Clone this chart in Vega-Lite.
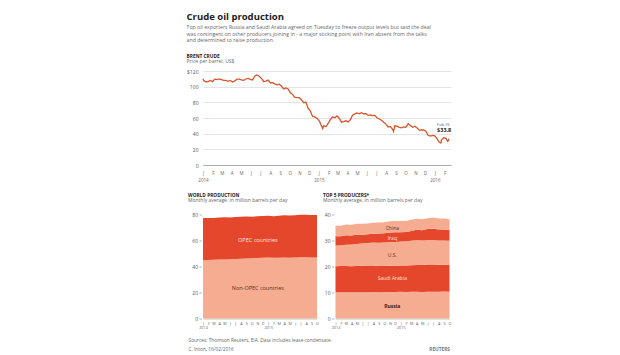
{
  "$schema": "https://vega.github.io/schema/vega-lite/v6.json",
  "background": "white",
  "padding": {"left": 186, "top": 12, "right": 0, "bottom": 0},
  "config": {
    "view": {"stroke": null},
    "font": "Open Sans",
    "axis": {"labelFont": "Open Sans", "titleFont": "Open Sans", "labelOverlap": false, "labelSeparation": 0}
  },
  "title": {
    "text": "Crude oil production",
    "subtitle": [
      "Top oil exporters Russia and Saudi Arabia agreed on Tuesday to freeze output levels but said the deal",
      "was contingent on other producers joining in - a major sticking point with Iran absent from the talks",
      "and determined to raise production."
    ],
    "anchor": "start",
    "fontSize": 9.5,
    "fontWeight": "bold",
    "color": "#222222",
    "subtitleFontSize": 5.2,
    "subtitleColor": "#666666",
    "subtitleLineHeight": 6.9,
    "subtitlePadding": 3,
    "offset": 10
  },
  "datasets": {
    "brent": [
      {"date": "2014-01-01", "price": 110.0},
      {"date": "2014-01-03", "price": 107.9},
      {"date": "2014-01-10", "price": 106.3},
      {"date": "2014-01-17", "price": 106.5},
      {"date": "2014-01-24", "price": 107.9},
      {"date": "2014-01-31", "price": 106.4},
      {"date": "2014-02-07", "price": 109.6},
      {"date": "2014-02-14", "price": 109.1},
      {"date": "2014-02-21", "price": 110.0},
      {"date": "2014-02-28", "price": 109.1},
      {"date": "2014-03-07", "price": 108.1},
      {"date": "2014-03-14", "price": 108.0},
      {"date": "2014-03-21", "price": 106.9},
      {"date": "2014-03-28", "price": 107.9},
      {"date": "2014-04-04", "price": 105.9},
      {"date": "2014-04-11", "price": 107.3},
      {"date": "2014-04-18", "price": 109.5},
      {"date": "2014-04-25", "price": 109.6},
      {"date": "2014-05-02", "price": 108.6},
      {"date": "2014-05-09", "price": 108.0},
      {"date": "2014-05-16", "price": 109.8},
      {"date": "2014-05-23", "price": 110.5},
      {"date": "2014-05-30", "price": 109.4},
      {"date": "2014-06-06", "price": 108.6},
      {"date": "2014-06-13", "price": 113.4},
      {"date": "2014-06-19", "price": 115.0},
      {"date": "2014-06-27", "price": 113.3},
      {"date": "2014-07-04", "price": 110.6},
      {"date": "2014-07-11", "price": 106.7},
      {"date": "2014-07-18", "price": 107.2},
      {"date": "2014-07-25", "price": 108.4},
      {"date": "2014-08-01", "price": 105.0},
      {"date": "2014-08-08", "price": 105.0},
      {"date": "2014-08-15", "price": 103.5},
      {"date": "2014-08-22", "price": 102.3},
      {"date": "2014-08-29", "price": 103.2},
      {"date": "2014-09-05", "price": 100.8},
      {"date": "2014-09-12", "price": 97.1},
      {"date": "2014-09-19", "price": 98.4},
      {"date": "2014-09-26", "price": 97.0},
      {"date": "2014-10-03", "price": 92.3},
      {"date": "2014-10-10", "price": 90.2},
      {"date": "2014-10-17", "price": 86.2},
      {"date": "2014-10-24", "price": 86.1},
      {"date": "2014-10-31", "price": 85.9},
      {"date": "2014-11-07", "price": 83.4},
      {"date": "2014-11-14", "price": 79.4},
      {"date": "2014-11-21", "price": 80.4},
      {"date": "2014-11-28", "price": 72.5},
      {"date": "2014-12-05", "price": 69.1},
      {"date": "2014-12-12", "price": 61.9},
      {"date": "2014-12-19", "price": 61.4},
      {"date": "2014-12-26", "price": 59.5},
      {"date": "2015-01-02", "price": 56.4},
      {"date": "2015-01-09", "price": 50.1},
      {"date": "2015-01-13", "price": 46.6},
      {"date": "2015-01-16", "price": 50.2},
      {"date": "2015-01-23", "price": 48.8},
      {"date": "2015-01-30", "price": 53.0},
      {"date": "2015-02-06", "price": 57.8},
      {"date": "2015-02-13", "price": 61.5},
      {"date": "2015-02-20", "price": 60.2},
      {"date": "2015-02-27", "price": 62.6},
      {"date": "2015-03-06", "price": 59.7},
      {"date": "2015-03-13", "price": 54.7},
      {"date": "2015-03-20", "price": 55.3},
      {"date": "2015-03-27", "price": 56.4},
      {"date": "2015-04-03", "price": 54.9},
      {"date": "2015-04-10", "price": 57.9},
      {"date": "2015-04-17", "price": 63.5},
      {"date": "2015-04-24", "price": 65.3},
      {"date": "2015-05-01", "price": 66.5},
      {"date": "2015-05-08", "price": 65.4},
      {"date": "2015-05-15", "price": 66.8},
      {"date": "2015-05-22", "price": 65.4},
      {"date": "2015-05-29", "price": 65.6},
      {"date": "2015-06-05", "price": 63.3},
      {"date": "2015-06-12", "price": 63.9},
      {"date": "2015-06-19", "price": 63.0},
      {"date": "2015-06-26", "price": 63.3},
      {"date": "2015-07-03", "price": 60.3},
      {"date": "2015-07-10", "price": 58.7},
      {"date": "2015-07-17", "price": 57.1},
      {"date": "2015-07-24", "price": 54.6},
      {"date": "2015-07-31", "price": 52.2},
      {"date": "2015-08-07", "price": 48.6},
      {"date": "2015-08-14", "price": 49.2},
      {"date": "2015-08-21", "price": 45.5},
      {"date": "2015-08-24", "price": 42.7},
      {"date": "2015-08-28", "price": 50.1},
      {"date": "2015-09-04", "price": 49.6},
      {"date": "2015-09-11", "price": 48.1},
      {"date": "2015-09-18", "price": 47.5},
      {"date": "2015-09-25", "price": 48.6},
      {"date": "2015-10-02", "price": 48.1},
      {"date": "2015-10-09", "price": 52.7},
      {"date": "2015-10-16", "price": 50.5},
      {"date": "2015-10-23", "price": 48.1},
      {"date": "2015-10-30", "price": 49.6},
      {"date": "2015-11-06", "price": 47.4},
      {"date": "2015-11-13", "price": 44.5},
      {"date": "2015-11-20", "price": 44.7},
      {"date": "2015-11-27", "price": 44.9},
      {"date": "2015-12-04", "price": 43.0},
      {"date": "2015-12-11", "price": 37.9},
      {"date": "2015-12-18", "price": 36.9},
      {"date": "2015-12-25", "price": 37.9},
      {"date": "2016-01-01", "price": 37.3},
      {"date": "2016-01-08", "price": 33.6},
      {"date": "2016-01-15", "price": 28.9},
      {"date": "2016-01-20", "price": 27.9},
      {"date": "2016-01-22", "price": 32.2},
      {"date": "2016-01-29", "price": 34.7},
      {"date": "2016-02-05", "price": 34.1},
      {"date": "2016-02-11", "price": 30.1},
      {"date": "2016-02-15", "price": 33.4}
    ],
    "brentLast": [
      {"date": "2016-02-15", "price": 33.4, "day": "Feb.15", "value": "$33.8"}
    ],
    "world": [
      {"month": "2014-01-01", "group": "Non-OPEC countries", "value": 44.9},
      {"month": "2014-02-01", "group": "Non-OPEC countries", "value": 45.0},
      {"month": "2014-03-01", "group": "Non-OPEC countries", "value": 45.1},
      {"month": "2014-04-01", "group": "Non-OPEC countries", "value": 45.3},
      {"month": "2014-05-01", "group": "Non-OPEC countries", "value": 45.4},
      {"month": "2014-06-01", "group": "Non-OPEC countries", "value": 45.5},
      {"month": "2014-07-01", "group": "Non-OPEC countries", "value": 45.7},
      {"month": "2014-08-01", "group": "Non-OPEC countries", "value": 45.9},
      {"month": "2014-09-01", "group": "Non-OPEC countries", "value": 46.1},
      {"month": "2014-10-01", "group": "Non-OPEC countries", "value": 46.3},
      {"month": "2014-11-01", "group": "Non-OPEC countries", "value": 46.6},
      {"month": "2014-12-01", "group": "Non-OPEC countries", "value": 46.8},
      {"month": "2015-01-01", "group": "Non-OPEC countries", "value": 46.9},
      {"month": "2015-02-01", "group": "Non-OPEC countries", "value": 46.7},
      {"month": "2015-03-01", "group": "Non-OPEC countries", "value": 46.8},
      {"month": "2015-04-01", "group": "Non-OPEC countries", "value": 46.9},
      {"month": "2015-05-01", "group": "Non-OPEC countries", "value": 46.8},
      {"month": "2015-06-01", "group": "Non-OPEC countries", "value": 46.9},
      {"month": "2015-07-01", "group": "Non-OPEC countries", "value": 47.1},
      {"month": "2015-08-01", "group": "Non-OPEC countries", "value": 47.1},
      {"month": "2015-09-01", "group": "Non-OPEC countries", "value": 47.0},
      {"month": "2015-10-01", "group": "Non-OPEC countries", "value": 46.9},
      {"month": "2014-01-01", "group": "OPEC countries", "value": 32.4},
      {"month": "2014-02-01", "group": "OPEC countries", "value": 32.4},
      {"month": "2014-03-01", "group": "OPEC countries", "value": 32.2},
      {"month": "2014-04-01", "group": "OPEC countries", "value": 32.4},
      {"month": "2014-05-01", "group": "OPEC countries", "value": 32.4},
      {"month": "2014-06-01", "group": "OPEC countries", "value": 32.2},
      {"month": "2014-07-01", "group": "OPEC countries", "value": 32.3},
      {"month": "2014-08-01", "group": "OPEC countries", "value": 32.4},
      {"month": "2014-09-01", "group": "OPEC countries", "value": 32.4},
      {"month": "2014-10-01", "group": "OPEC countries", "value": 32.0},
      {"month": "2014-11-01", "group": "OPEC countries", "value": 32.0},
      {"month": "2014-12-01", "group": "OPEC countries", "value": 32.0},
      {"month": "2015-01-01", "group": "OPEC countries", "value": 32.1},
      {"month": "2015-02-01", "group": "OPEC countries", "value": 32.0},
      {"month": "2015-03-01", "group": "OPEC countries", "value": 32.3},
      {"month": "2015-04-01", "group": "OPEC countries", "value": 32.5},
      {"month": "2015-05-01", "group": "OPEC countries", "value": 32.5},
      {"month": "2015-06-01", "group": "OPEC countries", "value": 32.6},
      {"month": "2015-07-01", "group": "OPEC countries", "value": 32.8},
      {"month": "2015-08-01", "group": "OPEC countries", "value": 32.7},
      {"month": "2015-09-01", "group": "OPEC countries", "value": 32.7},
      {"month": "2015-10-01", "group": "OPEC countries", "value": 32.7}
    ],
    "worldLabels": [
      {"month": "2014-11-04", "group": "OPEC countries", "value": 60.5},
      {"month": "2014-11-04", "group": "Non-OPEC countries", "value": 23.6}
    ],
    "producerOrder": [
      {"producer": "Russia", "stackOrder": 1},
      {"producer": "Saudi Arabia", "stackOrder": 2},
      {"producer": "U.S.", "stackOrder": 3},
      {"producer": "Iraq", "stackOrder": 4},
      {"producer": "China", "stackOrder": 5}
    ],
    "top5": [
      {"month": "2014-01-01", "producer": "Russia", "value": 10.1},
      {"month": "2014-02-01", "producer": "Russia", "value": 10.1},
      {"month": "2014-03-01", "producer": "Russia", "value": 10.1},
      {"month": "2014-04-01", "producer": "Russia", "value": 10.1},
      {"month": "2014-05-01", "producer": "Russia", "value": 10.1},
      {"month": "2014-06-01", "producer": "Russia", "value": 10.1},
      {"month": "2014-07-01", "producer": "Russia", "value": 10.1},
      {"month": "2014-08-01", "producer": "Russia", "value": 10.2},
      {"month": "2014-09-01", "producer": "Russia", "value": 10.1},
      {"month": "2014-10-01", "producer": "Russia", "value": 10.2},
      {"month": "2014-11-01", "producer": "Russia", "value": 10.2},
      {"month": "2014-12-01", "producer": "Russia", "value": 10.2},
      {"month": "2015-01-01", "producer": "Russia", "value": 10.3},
      {"month": "2015-02-01", "producer": "Russia", "value": 10.2},
      {"month": "2015-03-01", "producer": "Russia", "value": 10.3},
      {"month": "2015-04-01", "producer": "Russia", "value": 10.3},
      {"month": "2015-05-01", "producer": "Russia", "value": 10.2},
      {"month": "2015-06-01", "producer": "Russia", "value": 10.3},
      {"month": "2015-07-01", "producer": "Russia", "value": 10.3},
      {"month": "2015-08-01", "producer": "Russia", "value": 10.3},
      {"month": "2015-09-01", "producer": "Russia", "value": 10.4},
      {"month": "2015-10-01", "producer": "Russia", "value": 10.3},
      {"month": "2014-01-01", "producer": "Saudi Arabia", "value": 10.0},
      {"month": "2014-02-01", "producer": "Saudi Arabia", "value": 10.1},
      {"month": "2014-03-01", "producer": "Saudi Arabia", "value": 10.1},
      {"month": "2014-04-01", "producer": "Saudi Arabia", "value": 10.0},
      {"month": "2014-05-01", "producer": "Saudi Arabia", "value": 10.1},
      {"month": "2014-06-01", "producer": "Saudi Arabia", "value": 10.2},
      {"month": "2014-07-01", "producer": "Saudi Arabia", "value": 10.3},
      {"month": "2014-08-01", "producer": "Saudi Arabia", "value": 10.2},
      {"month": "2014-09-01", "producer": "Saudi Arabia", "value": 10.1},
      {"month": "2014-10-01", "producer": "Saudi Arabia", "value": 10.0},
      {"month": "2014-11-01", "producer": "Saudi Arabia", "value": 10.1},
      {"month": "2014-12-01", "producer": "Saudi Arabia", "value": 10.0},
      {"month": "2015-01-01", "producer": "Saudi Arabia", "value": 10.1},
      {"month": "2015-02-01", "producer": "Saudi Arabia", "value": 10.2},
      {"month": "2015-03-01", "producer": "Saudi Arabia", "value": 10.2},
      {"month": "2015-04-01", "producer": "Saudi Arabia", "value": 10.3},
      {"month": "2015-05-01", "producer": "Saudi Arabia", "value": 10.4},
      {"month": "2015-06-01", "producer": "Saudi Arabia", "value": 10.5},
      {"month": "2015-07-01", "producer": "Saudi Arabia", "value": 10.5},
      {"month": "2015-08-01", "producer": "Saudi Arabia", "value": 10.4},
      {"month": "2015-09-01", "producer": "Saudi Arabia", "value": 10.3},
      {"month": "2015-10-01", "producer": "Saudi Arabia", "value": 10.4},
      {"month": "2014-01-01", "producer": "U.S.", "value": 8.0},
      {"month": "2014-02-01", "producer": "U.S.", "value": 8.0},
      {"month": "2014-03-01", "producer": "U.S.", "value": 8.2},
      {"month": "2014-04-01", "producer": "U.S.", "value": 8.4},
      {"month": "2014-05-01", "producer": "U.S.", "value": 8.5},
      {"month": "2014-06-01", "producer": "U.S.", "value": 8.6},
      {"month": "2014-07-01", "producer": "U.S.", "value": 8.6},
      {"month": "2014-08-01", "producer": "U.S.", "value": 8.8},
      {"month": "2014-09-01", "producer": "U.S.", "value": 8.9},
      {"month": "2014-10-01", "producer": "U.S.", "value": 9.0},
      {"month": "2014-11-01", "producer": "U.S.", "value": 9.1},
      {"month": "2014-12-01", "producer": "U.S.", "value": 9.2},
      {"month": "2015-01-01", "producer": "U.S.", "value": 9.2},
      {"month": "2015-02-01", "producer": "U.S.", "value": 9.3},
      {"month": "2015-03-01", "producer": "U.S.", "value": 9.4},
      {"month": "2015-04-01", "producer": "U.S.", "value": 9.6},
      {"month": "2015-05-01", "producer": "U.S.", "value": 9.4},
      {"month": "2015-06-01", "producer": "U.S.", "value": 9.4},
      {"month": "2015-07-01", "producer": "U.S.", "value": 9.4},
      {"month": "2015-08-01", "producer": "U.S.", "value": 9.3},
      {"month": "2015-09-01", "producer": "U.S.", "value": 9.3},
      {"month": "2015-10-01", "producer": "U.S.", "value": 9.2},
      {"month": "2014-01-01", "producer": "Iraq", "value": 3.5},
      {"month": "2014-02-01", "producer": "Iraq", "value": 3.4},
      {"month": "2014-03-01", "producer": "Iraq", "value": 3.6},
      {"month": "2014-04-01", "producer": "Iraq", "value": 3.4},
      {"month": "2014-05-01", "producer": "Iraq", "value": 3.5},
      {"month": "2014-06-01", "producer": "Iraq", "value": 3.3},
      {"month": "2014-07-01", "producer": "Iraq", "value": 3.4},
      {"month": "2014-08-01", "producer": "Iraq", "value": 3.4},
      {"month": "2014-09-01", "producer": "Iraq", "value": 3.6},
      {"month": "2014-10-01", "producer": "Iraq", "value": 3.6},
      {"month": "2014-11-01", "producer": "Iraq", "value": 3.7},
      {"month": "2014-12-01", "producer": "Iraq", "value": 3.8},
      {"month": "2015-01-01", "producer": "Iraq", "value": 3.6},
      {"month": "2015-02-01", "producer": "Iraq", "value": 3.6},
      {"month": "2015-03-01", "producer": "Iraq", "value": 3.8},
      {"month": "2015-04-01", "producer": "Iraq", "value": 3.9},
      {"month": "2015-05-01", "producer": "Iraq", "value": 3.9},
      {"month": "2015-06-01", "producer": "Iraq", "value": 4.2},
      {"month": "2015-07-01", "producer": "Iraq", "value": 4.3},
      {"month": "2015-08-01", "producer": "Iraq", "value": 4.2},
      {"month": "2015-09-01", "producer": "Iraq", "value": 4.2},
      {"month": "2015-10-01", "producer": "Iraq", "value": 4.1},
      {"month": "2014-01-01", "producer": "China", "value": 4.1},
      {"month": "2014-02-01", "producer": "China", "value": 4.1},
      {"month": "2014-03-01", "producer": "China", "value": 4.2},
      {"month": "2014-04-01", "producer": "China", "value": 4.2},
      {"month": "2014-05-01", "producer": "China", "value": 4.2},
      {"month": "2014-06-01", "producer": "China", "value": 4.2},
      {"month": "2014-07-01", "producer": "China", "value": 4.1},
      {"month": "2014-08-01", "producer": "China", "value": 4.2},
      {"month": "2014-09-01", "producer": "China", "value": 4.2},
      {"month": "2014-10-01", "producer": "China", "value": 4.2},
      {"month": "2014-11-01", "producer": "China", "value": 4.3},
      {"month": "2014-12-01", "producer": "China", "value": 4.3},
      {"month": "2015-01-01", "producer": "China", "value": 4.3},
      {"month": "2015-02-01", "producer": "China", "value": 4.2},
      {"month": "2015-03-01", "producer": "China", "value": 4.3},
      {"month": "2015-04-01", "producer": "China", "value": 4.3},
      {"month": "2015-05-01", "producer": "China", "value": 4.3},
      {"month": "2015-06-01", "producer": "China", "value": 4.2},
      {"month": "2015-07-01", "producer": "China", "value": 4.3},
      {"month": "2015-08-01", "producer": "China", "value": 4.3},
      {"month": "2015-09-01", "producer": "China", "value": 4.3},
      {"month": "2015-10-01", "producer": "China", "value": 4.2}
    ],
    "top5Labels": [
      {"month": "2014-11-15", "producer": "China", "value": 35.0},
      {"month": "2014-11-15", "producer": "Iraq", "value": 31.0},
      {"month": "2014-11-15", "producer": "U.S.", "value": 24.3},
      {"month": "2014-11-15", "producer": "Saudi Arabia", "value": 15.4},
      {"month": "2014-11-15", "producer": "Russia", "value": 4.7}
    ]
  },
  "spacing": 10.5,
  "vconcat": [
    {
      "title": {
        "text": "BRENT CRUDE",
        "subtitle": "Price per barrel, US$",
        "anchor": "start",
        "fontSize": 4.8,
        "fontWeight": "bold",
        "color": "#222222",
        "subtitleFontSize": 5,
        "subtitleColor": "#666666",
        "subtitlePadding": 0.5,
        "offset": 5
      },
      "width": 248,
      "height": 94,
      "layer": [
        {
          "data": {"name": "brent"},
          "mark": {"type": "line", "color": "#d8542c", "strokeWidth": 1.3},
          "encoding": {
            "x": {
              "field": "date",
              "type": "temporal",
              "scale": {"domain": [{"year": 2014, "month": 1, "date": 1}, {"year": 2016, "month": 2, "date": 21}]},
              "axis": {
                "title": null,
                "tickCount": {"interval": "month", "step": 1},
                "format": "%b",
                "labelExpr": "month(datum.value)==0 ? [substring(datum.label,0,1), timeFormat(datum.value,'%Y')] : substring(datum.label,0,1)",
                "labelFontSize": 4.5,
                "labelColor": "#666666",
                "labelPadding": 5,
                "labelLineHeight": 7,
                "labelOverlap": false,
                "labelFlush": false,
                "ticks": false,
                "grid": false,
                "domain": true,
                "domainColor": "#999999",
                "domainWidth": 0.8
              }
            },
            "y": {
              "field": "price",
              "type": "quantitative",
              "scale": {"domain": [0, 120], "nice": false},
              "axis": {
                "title": null,
                "tickCount": 6,
                "labelExpr": "datum.value==120 ? '$120' : datum.label",
                "labelOverlap": false,
                "grid": true,
                "gridColor": "#d8d8d8",
                "gridWidth": 0.7,
                "ticks": false,
                "domain": false,
                "labelFontSize": 5,
                "labelColor": "#555555",
                "labelPadding": 5,
                "minExtent": 15,
                "maxExtent": 15
              }
            }
          }
        },
        {
          "data": {"name": "brentLast"},
          "mark": {"type": "text", "align": "left", "dx": -12, "dy": -14, "fontSize": 4, "color": "#444444"},
          "encoding": {
            "x": {"field": "date", "type": "temporal"},
            "y": {"field": "price", "type": "quantitative"},
            "text": {"field": "day"}
          }
        },
        {
          "data": {"name": "brentLast"},
          "mark": {"type": "text", "align": "left", "dx": -12, "dy": -9, "fontSize": 5.5, "fontWeight": "bold", "color": "#222222"},
          "encoding": {
            "x": {"field": "date", "type": "temporal"},
            "y": {"field": "price", "type": "quantitative"},
            "text": {"field": "value"}
          }
        }
      ]
    },
    {
      "bounds": "flush",
      "spacing": 18.5,
      "hconcat": [
        {
          "title": {
            "text": "WORLD PRODUCTION",
            "subtitle": "Monthly average, in million barrels per day",
            "anchor": "start",
            "fontSize": 4.8,
            "fontWeight": "bold",
            "color": "#222222",
            "subtitleFontSize": 5,
            "subtitleColor": "#666666",
            "subtitlePadding": 0,
            "offset": 10
          },
          "width": 114,
          "height": 104,
          "layer": [
            {
              "data": {"name": "world"},
              "mark": {"type": "area"},
              "encoding": {
                "x": {
                  "field": "month",
                  "type": "temporal",
                  "scale": {"domain": [{"year": 2014, "month": 1, "date": 1}, {"year": 2015, "month": 10, "date": 1}]},
                  "axis": {
                    "title": ["Sources: Thomson Reuters, EIA. Data includes lease condensate.", "C. Inton, 16/02/2016"],
                    "titleFontSize": 4.8,
                    "titleFontWeight": "normal",
                    "titleColor": "#666666",
                    "titleAnchor": "start",
                    "titleAlign": "left",
                    "titleX": -15,
                    "titleLineHeight": 9.5,
                    "titlePadding": 8,
                    "tickCount": {"interval": "month", "step": 1},
                    "format": "%b",
                    "labelExpr": "month(datum.value)==0 ? [substring(datum.label,0,1), timeFormat(datum.value,'%Y')] : substring(datum.label,0,1)",
                    "labelFontSize": 3.8,
                    "labelColor": "#666666",
                    "labelPadding": 2.5,
                    "labelLineHeight": 4.5,
                    "labelOverlap": false,
                    "labelFlush": false,
                    "ticks": false,
                    "grid": false,
                    "domain": true,
                    "domainColor": "#999999",
                    "domainWidth": 0.6
                  }
                },
                "y": {
                  "field": "value",
                  "type": "quantitative",
                  "stack": "zero",
                  "scale": {"domain": [0, 80], "nice": false},
                  "axis": {
                    "title": null,
                    "tickCount": 4,
                    "labelOverlap": false,
                    "grid": false,
                    "domain": false,
                    "ticks": true,
                    "tickSize": 2.5,
                    "tickColor": "#888888",
                    "tickWidth": 0.6,
                    "offset": 1.5,
                    "labelFontSize": 5,
                    "labelColor": "#555555",
                    "labelPadding": 1.5,
                    "minExtent": 13.5,
                    "maxExtent": 13.5
                  }
                },
                "color": {
                  "field": "group",
                  "type": "nominal",
                  "scale": {"domain": ["Non-OPEC countries", "OPEC countries"], "range": ["#f6ac90", "#e4472b"]},
                  "legend": null
                },
                "order": {"field": "group", "sort": "ascending"}
              }
            },
            {
              "data": {"name": "worldLabels"},
              "mark": {"type": "text", "fontSize": 5.5},
              "encoding": {
                "x": {"field": "month", "type": "temporal"},
                "y": {"field": "value", "type": "quantitative"},
                "text": {"field": "group"},
                "color": {"condition": {"test": "datum.group == 'OPEC countries'", "value": "#fde3d8"}, "value": "#5b2d22"}
              }
            }
          ]
        },
        {
          "title": {
            "text": "TOP 5 PRODUCERS*",
            "subtitle": "Monthly average, in million barrels per day",
            "anchor": "start",
            "fontSize": 4.8,
            "fontWeight": "bold",
            "color": "#222222",
            "subtitleFontSize": 5,
            "subtitleColor": "#666666",
            "subtitlePadding": 0,
            "offset": 10
          },
          "width": 114,
          "height": 104,
          "layer": [
            {
              "data": {"name": "top5"},
              "transform": [
                {"lookup": "producer", "from": {"data": {"name": "producerOrder"}, "key": "producer", "fields": ["stackOrder"]}}
              ],
              "mark": {"type": "area"},
              "encoding": {
                "x": {
                  "field": "month",
                  "type": "temporal",
                  "scale": {"domain": [{"year": 2014, "month": 1, "date": 1}, {"year": 2015, "month": 10, "date": 1}]},
                  "axis": {
                    "title": [" ", "REUTERS"],
                    "titleFontSize": 4.8,
                    "titleFontWeight": "bold",
                    "titleColor": "#777777",
                    "titleAnchor": "end",
                    "titleAlign": "right",
                    "titleLineHeight": 9.5,
                    "titlePadding": 8,
                    "tickCount": {"interval": "month", "step": 1},
                    "format": "%b",
                    "labelExpr": "month(datum.value)==0 ? [substring(datum.label,0,1), timeFormat(datum.value,'%Y')] : substring(datum.label,0,1)",
                    "labelFontSize": 3.8,
                    "labelColor": "#666666",
                    "labelPadding": 2.5,
                    "labelLineHeight": 4.5,
                    "labelOverlap": false,
                    "labelFlush": false,
                    "ticks": false,
                    "grid": false,
                    "domain": true,
                    "domainColor": "#999999",
                    "domainWidth": 0.6
                  }
                },
                "y": {
                  "field": "value",
                  "type": "quantitative",
                  "stack": "zero",
                  "scale": {"domain": [0, 40], "nice": false},
                  "axis": {
                    "title": null,
                    "tickCount": 4,
                    "labelOverlap": false,
                    "grid": false,
                    "domain": false,
                    "ticks": true,
                    "tickSize": 2.5,
                    "tickColor": "#888888",
                    "tickWidth": 0.6,
                    "offset": 1.5,
                    "labelFontSize": 5,
                    "labelColor": "#555555",
                    "labelPadding": 1.5,
                    "minExtent": 11,
                    "maxExtent": 11
                  }
                },
                "color": {
                  "field": "producer",
                  "type": "nominal",
                  "scale": {"domain": ["Russia", "Saudi Arabia", "U.S.", "Iraq", "China"], "range": ["#f6ac90", "#e4472b", "#f6ac90", "#e4472b", "#f6ac90"]},
                  "legend": null
                },
                "order": {"field": "stackOrder", "type": "quantitative", "sort": "ascending"}
              }
            },
            {
              "data": {"name": "top5Labels"},
              "transform": [{"filter": "datum.producer != 'Russia'"}],
              "mark": {"type": "text", "fontSize": 5},
              "encoding": {
                "x": {"field": "month", "type": "temporal"},
                "y": {"field": "value", "type": "quantitative"},
                "text": {"field": "producer"},
                "color": {"condition": {"test": "datum.producer == 'Saudi Arabia' || datum.producer == 'Iraq'", "value": "#fde3d8"}, "value": "#5b2d22"}
              }
            },
            {
              "data": {"name": "top5Labels"},
              "transform": [{"filter": "datum.producer == 'Russia'"}],
              "mark": {"type": "text", "fontSize": 5, "fontWeight": "bold", "color": "#3d1a10"},
              "encoding": {
                "x": {"field": "month", "type": "temporal"},
                "y": {"field": "value", "type": "quantitative"},
                "text": {"field": "producer"}
              }
            }
          ]
        }
      ]
    }
  ]
}
